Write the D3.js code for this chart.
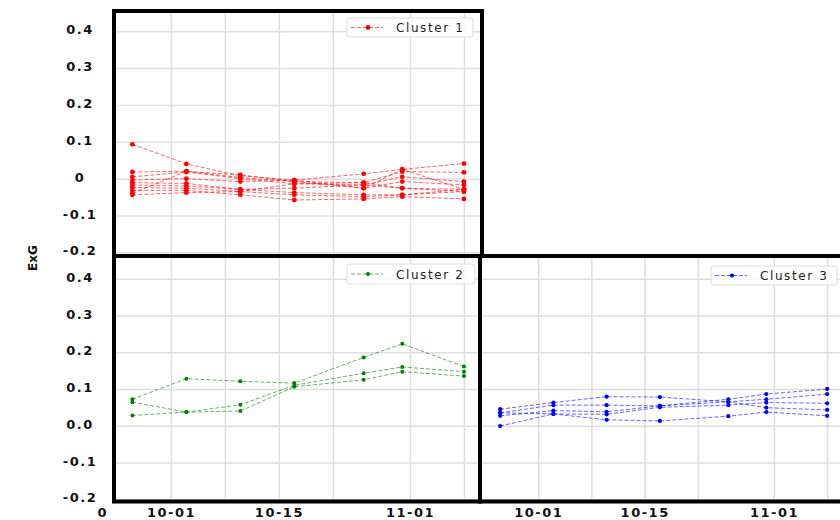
<!DOCTYPE html>
<html>
<head>
<meta charset="utf-8">
<script src="https://cdn.jsdelivr.net/npm/d3@7"></script>
<style>
  body { margin: 0; background: #fff; }
  svg { display: block; font-family: "DejaVu Sans", sans-serif; }
</style>
</head>
<body>
<svg id="chart" width="840" height="520"></svg>
<script>
// sampling dates (same for all clusters)
var dates = ["2019-09-26", "2019-10-03", "2019-10-10", "2019-10-17", "2019-10-26", "2019-10-31", "2019-11-08"];
// weekly grid (matplotlib day locator 1/8/15/22) and the labelled ones
var gridDates = ["2019-10-01", "2019-10-08", "2019-10-15", "2019-10-22", "2019-11-01", "2019-11-08"];
var labelDates = ["2019-10-01", "2019-10-15", "2019-11-01"];
var yTicks = [-0.2, -0.1, 0, 0.1, 0.2, 0.3, 0.4];

// ExG per field, one row per series
var cluster1 = [
  [0.093, 0.040, 0.008, -0.004, 0.013, 0.025, 0.041],
  [0.018, 0.020, 0.003, -0.008, -0.011, 0.019, 0.017],
  [0.005, 0.018, 0.000, -0.014, -0.017, 0.005, -0.008],
  [-0.004, 0.000, -0.008, -0.004, -0.026, -0.008, -0.017],
  [-0.011, -0.013, -0.029, -0.026, -0.017, -0.026, -0.029],
  [-0.017, -0.020, -0.029, -0.038, -0.044, -0.044, -0.035],
  [-0.024, -0.026, -0.035, -0.044, -0.049, -0.044, -0.029],
  [-0.032, -0.032, -0.044, -0.058, -0.055, -0.049, -0.055],
  [-0.040, 0.020, 0.010, -0.008, -0.026, 0.025, -0.029],
  [-0.044, -0.038, -0.035, -0.014, -0.011, -0.026, -0.035]
];
var cluster2 = [
  [0.072, 0.128, 0.121, 0.116, 0.186, 0.223, 0.161],
  [0.064, 0.037, 0.057, 0.110, 0.143, 0.160, 0.147],
  [0.028, 0.037, 0.040, 0.106, 0.125, 0.147, 0.135]
];
var cluster3 = [
  [0.045, 0.063, 0.079, 0.078, 0.065, 0.049, 0.043],
  [0.035, 0.056, 0.056, 0.054, 0.072, 0.086, 0.100],
  [0.027, 0.041, 0.038, 0.054, 0.065, 0.072, 0.086],
  [0.035, 0.032, 0.031, 0.050, 0.056, 0.063, 0.061],
  [-0.001, 0.032, 0.016, 0.013, 0.026, 0.037, 0.027]
];
var clusterNames = ["Cluster 1", "Cluster 2", "Cluster 3"];

var parse = d3.timeParse("%Y-%m-%d");
var t0 = new Date(2019, 8, 23, 21), t1 = new Date(2019, 10, 10, 2);

var svg = d3.select("#chart");

var panels = [
  {data: cluster1, name: clusterNames[0], color: "#ff0000", r: 2.4,
   frame: [114, 11, 368, 245], xr: [116, 480], yd: [-0.21, 0.455], yr: [256, 11],
   yLabels: true, zeroLabel: "0", xLabels: false, legend: [347, 18, 126, 19]},
  {data: cluster2, name: clusterNames[1], color: "#008000", r: 2,
   frame: [114, 256, 366, 245.5], xr: [116, 480], yd: [-0.205, 0.462], yr: [501, 256],
   yLabels: true, zeroLabel: "0.0", xLabels: true, legend: [347, 264, 128, 20]},
  {data: cluster3, name: clusterNames[2], color: "#0000ff", r: 2.1,
   frame: [480, 256, 400, 245.5], xr: [484, 843], yd: [-0.205, 0.462], yr: [501, 256],
   yLabels: false, xLabels: true, legend: [711, 266, 126, 19]}
];

panels.forEach(function(p, i) {
  var x = d3.scaleTime().domain([t0, t1]).range(p.xr);
  var y = d3.scaleLinear().domain(p.yd).range(p.yr);
  var f = p.frame;

  svg.append("clipPath").attr("id", "clip" + i)
    .append("rect").attr("x", f[0]).attr("y", f[1]).attr("width", f[2]).attr("height", f[3]);

  var g = svg.append("g").attr("clip-path", "url(#clip" + i + ")");

  // grid
  g.append("g").attr("transform", "translate(" + f[0] + ",0)")
    .call(d3.axisRight(y).tickValues(yTicks).tickSize(f[2]).tickFormat(""))
    .call(function(s) {
      s.select(".domain").remove();
      s.selectAll("line").attr("stroke", "#dedede").attr("stroke-width", 1.5);
    });
  g.append("g").attr("transform", "translate(0," + f[1] + ")")
    .call(d3.axisBottom(x).tickValues(gridDates.map(parse)).tickSize(f[3]).tickFormat(""))
    .call(function(s) {
      s.select(".domain").remove();
      s.selectAll("line").attr("stroke", "#dedede").attr("stroke-width", 1.5);
    });

  var line = d3.line()
    .x(function(d, j) { return x(parse(dates[j])); })
    .y(function(d) { return y(d); });

  g.selectAll(".series").data(p.data).enter().append("path")
    .attr("class", "series")
    .attr("d", line)
    .attr("fill", "none")
    .attr("stroke", p.color)
    .attr("stroke-opacity", 0.6)
    .attr("stroke-width", 1)
    .attr("stroke-dasharray", "4,2");

  p.data.forEach(function(s) {
    g.selectAll(null).data(s).enter().append("circle")
      .attr("cx", function(d, j) { return x(parse(dates[j])); })
      .attr("cy", function(d) { return y(d); })
      .attr("r", p.r)
      .attr("fill", p.color);
  });

  // legend
  var L = p.legend, ly = L[1] + L[3] / 2;
  var lg = svg.append("g");
  lg.append("rect")
    .attr("x", L[0]).attr("y", L[1]).attr("width", L[2]).attr("height", L[3])
    .attr("rx", 3).attr("fill", "#fff").attr("fill-opacity", 0.85)
    .attr("stroke", "#dcdcdc").attr("stroke-width", 1);
  lg.append("line")
    .attr("x1", L[0] + 4).attr("x2", L[0] + 36).attr("y1", ly).attr("y2", ly)
    .attr("stroke", p.color).attr("stroke-opacity", 0.6).attr("stroke-dasharray", "4,2");
  lg.append("circle").attr("cx", L[0] + 21).attr("cy", ly).attr("r", p.r).attr("fill", p.color);
  lg.append("text")
    .attr("x", L[0] + 49).attr("y", ly + 4.5)
    .attr("font-size", 12).attr("letter-spacing", 1.6).attr("fill", "#222")
    .text(p.name);

  // y tick labels
  if (p.yLabels) {
    svg.append("g").attr("transform", "translate(80,0)")
      .call(d3.axisLeft(y).tickValues(yTicks).tickSize(0).tickPadding(0)
        .tickFormat(function(d) { return d === 0 ? p.zeroLabel : d.toFixed(1); }))
      .call(function(s) {
        s.select(".domain").remove();
        s.selectAll("text")
          .attr("text-anchor", "middle").attr("x", 0).attr("dy", "0.2em")
          .attr("font-family", "DejaVu Sans").attr("font-weight", "bold")
          .attr("font-size", 13).attr("letter-spacing", 1.5).attr("fill", "#111");
      });
  }

  // x tick labels
  if (p.xLabels) {
    svg.append("g").attr("transform", "translate(0,517)")
      .call(d3.axisBottom(x).tickValues(labelDates.map(parse)).tickSize(0).tickPadding(0)
        .tickFormat(d3.timeFormat("%m-%d")))
      .call(function(s) {
        s.select(".domain").remove();
        s.selectAll("text")
          .attr("y", 0).attr("dy", 0)
          .attr("font-family", "DejaVu Sans").attr("font-weight", "bold")
          .attr("font-size", 13).attr("letter-spacing", 1.5).attr("fill", "#111");
      });
  }

  // thick frame
  svg.append("rect")
    .attr("x", f[0]).attr("y", f[1]).attr("width", f[2]).attr("height", f[3])
    .attr("fill", "none").attr("stroke", "#000").attr("stroke-width", 4);
});

svg.append("text")
  .attr("x", 102).attr("y", 517).attr("text-anchor", "middle")
  .attr("font-weight", "bold").attr("font-size", 13).attr("fill", "#111")
  .text("0");

svg.append("text")
  .attr("transform", "translate(37,258) rotate(-90)")
  .attr("text-anchor", "middle")
  .attr("font-weight", "bold").attr("font-size", 12).attr("fill", "#111")
  .text("ExG");
</script>
</body>
</html>
